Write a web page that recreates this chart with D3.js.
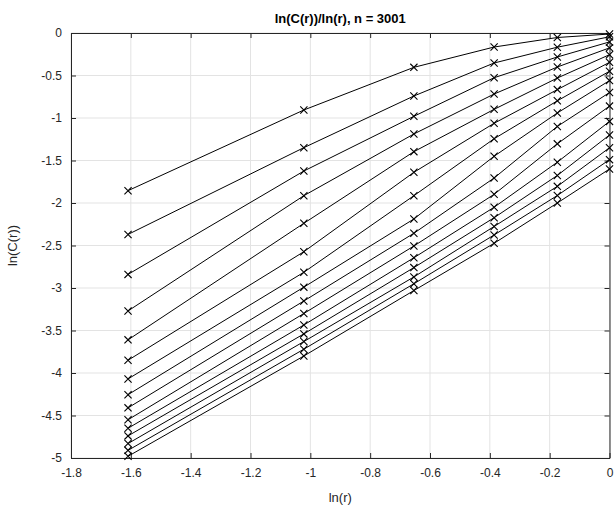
<!DOCTYPE html>
<html>
<head>
<meta charset="utf-8">
<script src="https://cdn.jsdelivr.net/npm/d3@7"></script>
<style>
  body { margin: 0; background: #fff; }
  text { font-family: "Liberation Sans", Arial, sans-serif; }
</style>
</head>
<body>
<div id="chart"></div>
<script>
// ln(r) for r = 0.2, 0.36, 0.52, 0.68, 0.84, 1.0
const lnR = [-1.6094, -1.0217, -0.6539, -0.3857, -0.1744, 0];

// ln(C(r)) per curve (top curve first)
const series1 = [-1.855, -0.906, -0.404, -0.165, -0.053, -0.012];
const series2 = [-2.37, -1.349, -0.741, -0.353, -0.167, -0.045];
const series3 = [-2.84, -1.624, -0.98, -0.526, -0.282, -0.105];
const series4 = [-3.27, -1.914, -1.188, -0.718, -0.40, -0.175];
const series5 = [-3.61, -2.239, -1.396, -0.898, -0.53, -0.255];
const series6 = [-3.85, -2.573, -1.639, -1.062, -0.666, -0.345];
const series7 = [-4.07, -2.815, -1.914, -1.244, -0.798, -0.45];
const series8 = [-4.255, -2.99, -2.188, -1.45, -0.941, -0.56];
const series9 = [-4.41, -3.153, -2.356, -1.706, -1.099, -0.70];
const series10 = [-4.55, -3.30, -2.506, -1.898, -1.304, -0.86];
const series11 = [-4.65, -3.435, -2.644, -2.05, -1.52, -1.04];
const series12 = [-4.74, -3.54, -2.76, -2.173, -1.676, -1.20];
const series13 = [-4.83, -3.63, -2.87, -2.276, -1.804, -1.35];
const series14 = [-4.91, -3.72, -2.95, -2.376, -1.912, -1.49];
const series15 = [-4.98, -3.80, -3.03, -2.474, -2.00, -1.60];

const allSeries = [series1, series2, series3, series4, series5, series6, series7, series8,
  series9, series10, series11, series12, series13, series14, series15];

const xTicks = [-1.8, -1.6, -1.4, -1.2, -1, -0.8, -0.6, -0.4, -0.2, 0];
const yTicks = [0, -0.5, -1, -1.5, -2, -2.5, -3, -3.5, -4, -4.5, -5];

const margin = { top: 33, right: 4.5, bottom: 51, left: 71 },
  width = 614 - margin.left - margin.right,
  height = 509 - margin.top - margin.bottom;

const x = d3.scaleLinear().domain([-1.8, 0]).range([0, width]);
const y = d3.scaleLinear().domain([-5, 0]).range([height, 0]);

const svg = d3.select("#chart").append("svg")
  .attr("width", 614)
  .attr("height", 509)
  .append("g")
  .attr("transform", `translate(${margin.left},${margin.top})`);

// grid
svg.append("g")
  .selectAll("line")
  .data(xTicks)
  .join("line")
  .attr("x1", d => x(d)).attr("x2", d => x(d))
  .attr("y1", 0).attr("y2", height)
  .attr("stroke", "#e3e3e3");

svg.append("g")
  .selectAll("line")
  .data(yTicks)
  .join("line")
  .attr("y1", d => y(d)).attr("y2", d => y(d))
  .attr("x1", 0).attr("x2", width)
  .attr("stroke", "#e3e3e3");

// axes (box with inward ticks)
const fmt = d => String(d).replace("-", "-");
const styleAxis = g => {
  g.select(".domain").attr("stroke", "#262626");
  g.selectAll(".tick line").attr("stroke", "#262626");
  g.selectAll(".tick text").attr("fill", "#262626").style("font-size", "12px")
    .style("font-family", "Liberation Sans, Arial, sans-serif");
};

svg.append("g")
  .attr("transform", `translate(0,${height})`)
  .call(d3.axisBottom(x).tickValues(xTicks).tickFormat(fmt).tickSizeInner(-5).tickSizeOuter(0).tickPadding(10))
  .call(styleAxis);

svg.append("g")
  .call(d3.axisTop(x).tickValues(xTicks).tickFormat("").tickSizeInner(-5).tickSizeOuter(0))
  .call(styleAxis);

svg.append("g")
  .call(d3.axisLeft(y).tickValues(yTicks).tickFormat(fmt).tickSizeInner(-5).tickSizeOuter(0).tickPadding(9))
  .call(styleAxis);

svg.append("g")
  .attr("transform", `translate(${width},0)`)
  .call(d3.axisRight(y).tickValues(yTicks).tickFormat("").tickSizeInner(-5).tickSizeOuter(0))
  .call(styleAxis);

// curves
const line = d3.line()
  .x((d, i) => x(lnR[i]))
  .y(d => y(d));

svg.append("g")
  .selectAll("path")
  .data(allSeries)
  .join("path")
  .attr("d", line)
  .attr("fill", "none")
  .attr("stroke", "#000")
  .attr("stroke-width", 1);

// x markers
const pts = allSeries.flatMap(s => s.map((v, i) => ({ lx: lnR[i], v })));
const m = 3.6;
svg.append("g")
  .selectAll("path")
  .data(pts)
  .join("path")
  .attr("d", d => {
    const cx = x(d.lx), cy = y(d.v);
    return `M${cx - m},${cy - m}L${cx + m},${cy + m}M${cx - m},${cy + m}L${cx + m},${cy - m}`;
  })
  .attr("stroke", "#000")
  .attr("stroke-width", 1.1)
  .attr("fill", "none");

// labels
svg.append("text")
  .attr("x", width / 2)
  .attr("y", -10)
  .attr("text-anchor", "middle")
  .style("font-size", "13px")
  .style("font-weight", "bold")
  .attr("fill", "#000")
  .text("ln(C(r))/ln(r), n = 3001");

svg.append("text")
  .attr("x", width / 2)
  .attr("y", height + 44)
  .attr("text-anchor", "middle")
  .style("font-size", "13px")
  .attr("fill", "#262626")
  .text("ln(r)");

svg.append("text")
  .attr("transform", "rotate(-90)")
  .attr("x", -height / 2)
  .attr("y", -54)
  .attr("text-anchor", "middle")
  .style("font-size", "13px")
  .attr("fill", "#262626")
  .text("ln(C(r))");
</script>
</body>
</html>
